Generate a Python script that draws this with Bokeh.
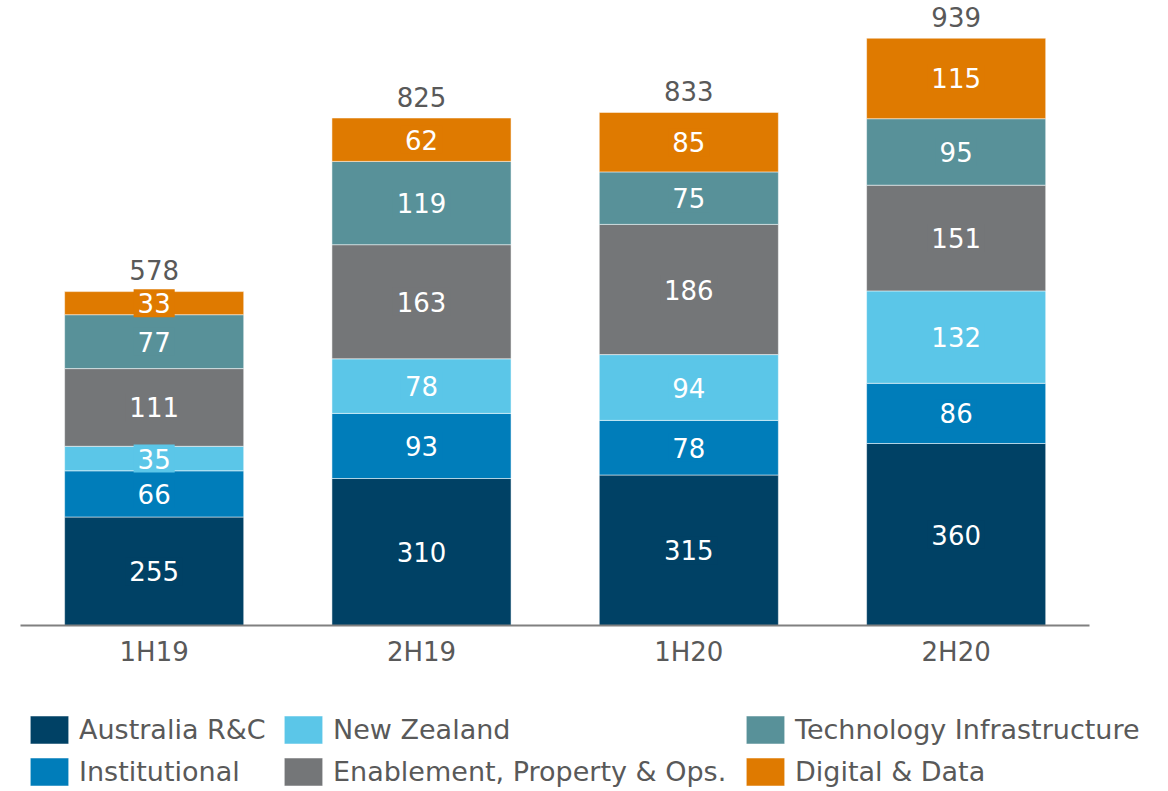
from bokeh.plotting import figure
from bokeh.models import Range1d, ColumnDataSource, Legend, LegendItem, FixedTicker
from bokeh.core.properties import value
from bokeh.embed import file_html
from bokeh.resources import INLINE

# ---- data ----
periods = ["1H19", "2H19", "1H20", "2H20"]
series = ["Australia R&C", "Institutional", "New Zealand",
          "Enablement, Property & Ops.", "Technology Infrastructure", "Digital & Data"]
australia = [255, 310, 315, 360]
institutional = [66, 93, 78, 86]
new_zealand = [35, 78, 94, 132]
enablement = [111, 163, 186, 151]
technology = [77, 119, 75, 95]
digital = [33, 62, 85, 115]
totals = [578, 825, 833, 939]
y_base = 100  # value axis starts at 100

colors = ["#004165", "#007dba", "#5bc6e8", "#747678", "#589199", "#df7a00"]
values = [australia, institutional, new_zealand, enablement, technology, digital]

FONT = "DejaVu Sans"
GREY = "#595959"

# ---- layout geometry (pixels) ----
W, H = 1168, 791
AXIS_Y = 625          # pixel row of the value-axis base
PX_PER_UNIT = 0.70    # vertical scale
X0_PX = 20            # pixel column of category slot 0
SLOT_PX = 267.33      # width of one category slot

p = figure(x_range=Range1d(-X0_PX / SLOT_PX, (W - X0_PX) / SLOT_PX),
           y_range=Range1d(y_base - (H - AXIS_Y) / PX_PER_UNIT, y_base + AXIS_Y / PX_PER_UNIT),
           width=W, height=H, output_backend="svg", toolbar_location=None,
           min_border_left=0, min_border_right=0, min_border_top=0, min_border_bottom=0,
           y_axis_location=None)
p.outline_line_color = None
p.xgrid.visible = False
p.ygrid.visible = False

xpos = [i + 0.5 for i in range(len(periods))]

# stacked segments (value axis begins at y_base)
renderers = []
lx, ly, lt, lc = [], [], [], []
cum = [0] * len(periods)
for s, vals, c in zip(series, values, colors):
    bottoms = [max(b, y_base) for b in cum]
    tops = [b + v for b, v in zip(cum, vals)]
    src = ColumnDataSource(dict(x=xpos, bottom=bottoms, top=tops))
    r = p.vbar(x="x", bottom="bottom", top="top", width=0.67, source=src,
               fill_color=c, line_color="white", line_alpha=0.5, line_width=1)
    renderers.append(r)
    for i in range(len(periods)):
        lx.append(xpos[i])
        ly.append((bottoms[i] + tops[i]) / 2)
        lt.append(str(vals[i]))
        lc.append(c)
    cum = tops

lsrc = ColumnDataSource(dict(x=lx, y=ly, t=lt, c=lc))
p.text(x="x", y="y", text="t", source=lsrc, text_align="center", text_baseline="middle",
       text_color="white", text_font=value(FONT), text_font_size="26px",
       background_fill_color="c", padding=4)

# totals
tsrc = ColumnDataSource(dict(x=xpos, y=totals, t=[str(t) for t in totals]))
p.text(x="x", y="y", text="t", source=tsrc, text_align="center", text_baseline="middle",
       y_offset=-21, text_color=GREY, text_font=value(FONT), text_font_size="26px")

ax = p.xaxis[0]
ax.fixed_location = y_base
ax.bounds = (0, len(periods))
ax.ticker = FixedTicker(ticks=xpos)
ax.major_label_overrides = {x: per for x, per in zip(xpos, periods)}
ax.axis_line_color = "#808080"
ax.axis_line_width = 2
ax.major_tick_line_color = None
ax.minor_tick_line_color = None
ax.major_label_text_font = FONT
ax.major_label_text_font_size = "26px"
ax.major_label_text_color = GREY
ax.major_label_standoff = 5

# legend: three columns
cols = [[0, 1], [2, 3], [4, 5]]
xs = [25, 279, 741]
for col, x0 in zip(cols, xs):
    items = [LegendItem(label=series[k], renderers=[renderers[k]]) for k in col]
    lg = Legend(items=items, location=(x0, 2), orientation="vertical",
                glyph_width=48, glyph_height=35, label_standoff=6, spacing=7,
                padding=0, margin=0, border_line_color=None, background_fill_alpha=0,
                label_text_font=FONT, label_text_font_size="27px", label_text_color=GREY)
    p.add_layout(lg, "center")

open("out.html", "w").write(file_html(p, INLINE))
